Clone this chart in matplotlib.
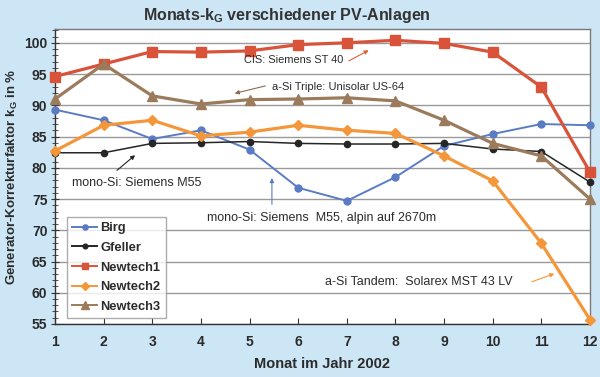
import matplotlib
matplotlib.use("Agg")
import matplotlib.pyplot as plt
from matplotlib.ticker import MultipleLocator
from matplotlib.lines import Line2D

months = list(range(1, 13))
birg = [89.3, 87.6, 84.6, 86.0, 82.9, 76.8, 74.7, 78.5, 83.5, 85.4, 87.0, 86.8]
gfeller = [82.4, 82.4, 83.9, 84.0, 84.2, 83.9, 83.8, 83.8, 83.9, 83.0, 82.6, 77.7]
newtech1 = [94.6, 96.6, 98.6, 98.5, 98.7, 99.7, 100.0, 100.4, 99.9, 98.5, 92.9, 79.3]
newtech2 = [82.7, 86.8, 87.6, 85.1, 85.7, 86.8, 86.0, 85.5, 81.9, 77.9, 67.9, 55.7]
newtech3 = [91.0, 96.6, 91.5, 90.2, 90.9, 91.0, 91.2, 90.7, 87.6, 83.9, 81.9, 75.0]

plt.rcParams['font.family'] = ['Liberation Sans', 'DejaVu Sans']
txt = '#2b2b2b'

fig = plt.figure(figsize=(6.0, 3.77), dpi=100, facecolor='#cde6f6')
ax = fig.add_axes([0.0917, 0.1406, 0.8916, 0.7824])
ax.set_facecolor('white')

series = [
    ('Birg', birg, '#5b7cc4', 'o', 5, 1.4),
    ('Gfeller', gfeller, '#262626', 'o', 4.5, 1.1),
    ('Newtech1', newtech1, '#d9533b', 's', 6.5, 2.3),
    ('Newtech2', newtech2, '#f4973a', 'D', 5, 2.3),
    ('Newtech3', newtech3, '#9b7b5b', '^', 7, 2.3),
]
handles = []
for name, vals, col, mk, ms, lw in series:
    ax.plot(months, vals, color=col, marker=mk, ms=ms, lw=lw,
            clip_on=False, zorder=3)
    handles.append(Line2D([], [], color=col, marker=mk, ms=ms * 0.75,
                          lw=1.4, label=name))

ax.set_xlim(1, 12)
ax.set_ylim(55, 102.2)
ax.set_xticks(months)
ax.yaxis.set_major_locator(MultipleLocator(5))
ax.yaxis.set_minor_locator(MultipleLocator(1))
ax.grid(axis='y', which='major', color='#9a9a9a', lw=1.0)
ax.set_axisbelow(True)
for s in ax.spines.values():
    s.set_color('#7a7a7a')
    s.set_linewidth(1.0)
ax.spines['left'].set_color('#333333')
ax.spines['bottom'].set_color('#333333')
ax.tick_params(axis='y', which='major', direction='inout', length=6, color='#333333',
               labelsize=10, labelcolor=txt, pad=2.5)
ax.tick_params(axis='y', which='minor', direction='inout', length=4.3, color='#333333')
ax.tick_params(axis='x', which='major', direction='in', length=4, color='#333333',
               labelsize=10, labelcolor=txt, pad=8)
for lab in ax.get_xticklabels() + ax.get_yticklabels():
    lab.set_fontweight('bold')

fig.text(0.478, 0.96, 'Monats-k$_\\mathregular{G}$ verschiedener PV-Anlagen',
         ha='center', va='center', fontsize=11.5, fontweight='bold', color='#333333')
ax.set_xlabel('Monat im Jahr 2002', fontsize=10.5, fontweight='bold', color=txt, labelpad=6)
ax.set_ylabel('Generator-Korrekturfaktor k$_\\mathregular{G}$ in %', fontsize=9.5,
              fontweight='bold', color=txt, labelpad=3)

def note(text, xt, yt, xa0, ya0, xa1, ya1, col, fs, ha='left'):
    ax.text(xt, yt, text, fontsize=fs, color=txt, ha=ha, va='center')
    ax.annotate('', xy=(xa1, ya1), xytext=(xa0, ya0),
                arrowprops=dict(arrowstyle='-|>', color=col, lw=0.8, mutation_scale=6))

note('CIS: Siemens ST 40', 5.91, 97.2, 6.99, 96.9, 7.50, 99.0, '#e0603a', 7.9, ha='center')
note('a-Si Triple: Unisolar US-64', 5.46, 92.9, 5.38, 93.2, 4.64, 91.8, '#8b6b4b', 8.0)
note('mono-Si: Siemens M55', 2.68, 77.5, 2.23, 79.3, 2.69, 82.3, '#222222', 9.0, ha='center')
note('mono-Si: Siemens  M55, alpin auf 2670m', 4.13, 71.9, 5.46, 73.7, 5.46, 78.8,
     '#5b7cc4', 9.0)
note('a-Si Tandem:  Solarex MST 43 LV', 6.55, 61.7, 10.75, 61.6, 11.32, 63.2,
     '#f4973a', 9.0)

leg = ax.legend(handles=handles, loc='lower left', bbox_to_anchor=(0.0224, 0.02),
                borderaxespad=0, fontsize=9.3, frameon=True, fancybox=False,
                edgecolor='#999999', handlelength=1.95, handletextpad=0.25,
                borderpad=0.4, labelspacing=0.59)
leg.get_frame().set_linewidth(1.0)
for t in leg.get_texts():
    t.set_fontweight('bold')
    t.set_color(txt)

fig.savefig('out.png', dpi=100, facecolor=fig.get_facecolor())
